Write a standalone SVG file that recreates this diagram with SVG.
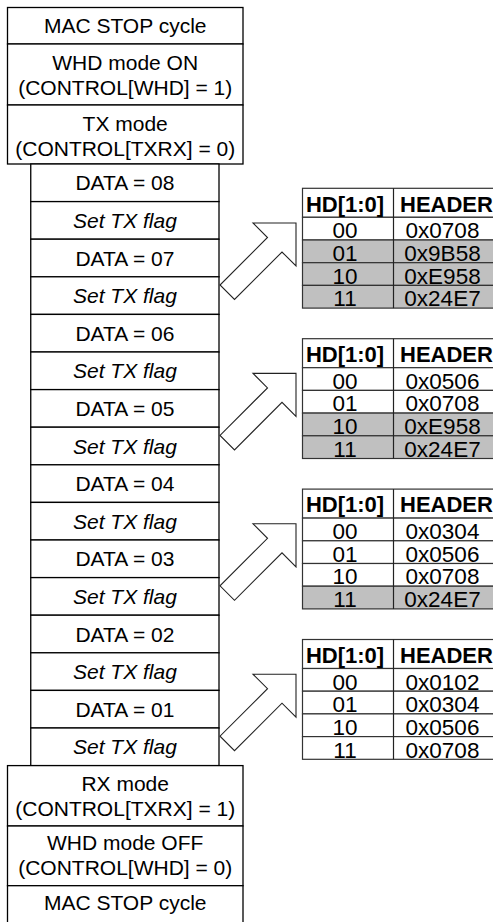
<svg xmlns="http://www.w3.org/2000/svg" width="493" height="922" viewBox="0 0 493 922">
<style>
.bx{fill:#fff;stroke:#000;stroke-width:1.3}
.t{font-family:"Liberation Sans",Arial,sans-serif;font-size:21px;fill:#000;text-anchor:middle}
.i{font-style:italic}
.tb{fill:#fff;stroke:#333;stroke-width:1.2}
.g{fill:#c0c0c0;stroke:#333;stroke-width:1.2}
.ln{stroke:#222;stroke-width:1.2}
.h{font-family:"Liberation Sans",Arial,sans-serif;font-size:22px;font-weight:bold;fill:#000}
.v{font-family:"Liberation Sans",Arial,sans-serif;font-size:22.5px;fill:#000;text-anchor:middle}
.ar{fill:#fff;stroke:#222;stroke-width:1.1;stroke-linejoin:miter}
</style>
<rect width="493" height="922" fill="#fff"/>
<g id="mac-stop-top"><rect class="bx" x="7.5" y="7.5" width="235.5" height="36.5"/><text class="t" x="125.2" y="33.3">MAC STOP cycle</text></g>
<g id="whd-on"><rect class="bx" x="7.5" y="44" width="235.5" height="61"/><text class="t" x="125.2" y="70">WHD mode ON</text><text class="t" x="125.2" y="94.5">(CONTROL[WHD] = 1)</text></g>
<g id="tx-mode"><rect class="bx" x="7.5" y="105" width="235.5" height="59"/><text class="t" x="125.2" y="131">TX mode</text><text class="t" x="125.2" y="156">(CONTROL[TXRX] = 0)</text></g>
<g id="row0"><rect class="bx" x="30.75" y="164" width="188.25" height="37.6"/><text class="t" x="124.9" y="190.3">DATA = 08</text></g>
<g id="row1"><rect class="bx" x="30.75" y="201.6" width="188.25" height="37.6"/><text class="t i" x="124.9" y="227.9">Set TX flag</text></g>
<g id="row2"><rect class="bx" x="30.75" y="239.2" width="188.25" height="37.6"/><text class="t" x="124.9" y="265.5">DATA = 07</text></g>
<g id="row3"><rect class="bx" x="30.75" y="276.8" width="188.25" height="37.6"/><text class="t i" x="124.9" y="303.1">Set TX flag</text></g>
<g id="row4"><rect class="bx" x="30.75" y="314.4" width="188.25" height="37.6"/><text class="t" x="124.9" y="340.7">DATA = 06</text></g>
<g id="row5"><rect class="bx" x="30.75" y="352" width="188.25" height="37.6"/><text class="t i" x="124.9" y="378.3">Set TX flag</text></g>
<g id="row6"><rect class="bx" x="30.75" y="389.6" width="188.25" height="37.6"/><text class="t" x="124.9" y="415.9">DATA = 05</text></g>
<g id="row7"><rect class="bx" x="30.75" y="427.2" width="188.25" height="37.6"/><text class="t i" x="124.9" y="453.5">Set TX flag</text></g>
<g id="row8"><rect class="bx" x="30.75" y="464.8" width="188.25" height="37.6"/><text class="t" x="124.9" y="491.1">DATA = 04</text></g>
<g id="row9"><rect class="bx" x="30.75" y="502.4" width="188.25" height="37.6"/><text class="t i" x="124.9" y="528.7">Set TX flag</text></g>
<g id="row10"><rect class="bx" x="30.75" y="540" width="188.25" height="37.6"/><text class="t" x="124.9" y="566.3">DATA = 03</text></g>
<g id="row11"><rect class="bx" x="30.75" y="577.6" width="188.25" height="37.6"/><text class="t i" x="124.9" y="603.9">Set TX flag</text></g>
<g id="row12"><rect class="bx" x="30.75" y="615.2" width="188.25" height="37.6"/><text class="t" x="124.9" y="641.5">DATA = 02</text></g>
<g id="row13"><rect class="bx" x="30.75" y="652.8" width="188.25" height="37.6"/><text class="t i" x="124.9" y="679.1">Set TX flag</text></g>
<g id="row14"><rect class="bx" x="30.75" y="690.4" width="188.25" height="37.6"/><text class="t" x="124.9" y="716.7">DATA = 01</text></g>
<g id="row15"><rect class="bx" x="30.75" y="728" width="188.25" height="37.6"/><text class="t i" x="124.9" y="754.3">Set TX flag</text></g>
<g id="rx-mode"><rect class="bx" x="7.5" y="765.6" width="235.5" height="60.4"/><text class="t" x="125.2" y="790.5">RX mode</text><text class="t" x="125.2" y="815.5">(CONTROL[TXRX] = 1)</text></g>
<g id="whd-off"><rect class="bx" x="7.5" y="826" width="235.5" height="59.7"/><text class="t" x="125.2" y="850">WHD mode OFF</text><text class="t" x="125.2" y="875">(CONTROL[WHD] = 0)</text></g>
<g id="mac-stop-bottom"><rect class="bx" x="7.5" y="885.7" width="235.5" height="37"/><text class="t" x="125.2" y="910">MAC STOP cycle</text></g>

<g id="table1" transform="translate(0,188.3)">
<rect class="tb" x="302.5" y="0" width="200" height="29"/>
<rect class="tb" x="302.5" y="29" width="200" height="22.7"/>
<rect class="g" x="302.5" y="51.7" width="200" height="22.7"/>
<rect class="g" x="302.5" y="74.4" width="200" height="22.7"/>
<rect class="g" x="302.5" y="97.1" width="200" height="22.7"/>
<line class="ln" x1="393.5" y1="0" x2="393.5" y2="119.8"/>
<text class="h" x="345" y="23.4" text-anchor="middle">HD[1:0]</text><text class="h" x="400" y="23.4">HEADER</text>
<text class="v" x="345" y="50">00</text><text class="v" x="442.5" y="50">0x0708</text>
<text class="v" x="345" y="72.7">01</text><text class="v" x="442.5" y="72.7">0x9B58</text>
<text class="v" x="345" y="95.4">10</text><text class="v" x="442.5" y="95.4">0xE958</text>
<text class="v" x="345" y="118.1">11</text><text class="v" x="442.5" y="118.1">0x24E7</text>
</g>
<g id="table2" transform="translate(0,338.7)">
<rect class="tb" x="302.5" y="0" width="200" height="29"/>
<rect class="tb" x="302.5" y="29" width="200" height="22.7"/>
<rect class="tb" x="302.5" y="51.7" width="200" height="22.7"/>
<rect class="g" x="302.5" y="74.4" width="200" height="22.7"/>
<rect class="g" x="302.5" y="97.1" width="200" height="22.7"/>
<line class="ln" x1="393.5" y1="0" x2="393.5" y2="119.8"/>
<text class="h" x="345" y="23.4" text-anchor="middle">HD[1:0]</text><text class="h" x="400" y="23.4">HEADER</text>
<text class="v" x="345" y="50">00</text><text class="v" x="442.5" y="50">0x0506</text>
<text class="v" x="345" y="72.7">01</text><text class="v" x="442.5" y="72.7">0x0708</text>
<text class="v" x="345" y="95.4">10</text><text class="v" x="442.5" y="95.4">0xE958</text>
<text class="v" x="345" y="118.1">11</text><text class="v" x="442.5" y="118.1">0x24E7</text>
</g>
<g id="table3" transform="translate(0,489.1)">
<rect class="tb" x="302.5" y="0" width="200" height="29"/>
<rect class="tb" x="302.5" y="29" width="200" height="22.7"/>
<rect class="tb" x="302.5" y="51.7" width="200" height="22.7"/>
<rect class="tb" x="302.5" y="74.4" width="200" height="22.7"/>
<rect class="g" x="302.5" y="97.1" width="200" height="22.7"/>
<line class="ln" x1="393.5" y1="0" x2="393.5" y2="119.8"/>
<text class="h" x="345" y="23.4" text-anchor="middle">HD[1:0]</text><text class="h" x="400" y="23.4">HEADER</text>
<text class="v" x="345" y="50">00</text><text class="v" x="442.5" y="50">0x0304</text>
<text class="v" x="345" y="72.7">01</text><text class="v" x="442.5" y="72.7">0x0506</text>
<text class="v" x="345" y="95.4">10</text><text class="v" x="442.5" y="95.4">0x0708</text>
<text class="v" x="345" y="118.1">11</text><text class="v" x="442.5" y="118.1">0x24E7</text>
</g>
<g id="table4" transform="translate(0,639.5)">
<rect class="tb" x="302.5" y="0" width="200" height="29"/>
<rect class="tb" x="302.5" y="29" width="200" height="22.7"/>
<rect class="tb" x="302.5" y="51.7" width="200" height="22.7"/>
<rect class="tb" x="302.5" y="74.4" width="200" height="22.7"/>
<rect class="tb" x="302.5" y="97.1" width="200" height="22.7"/>
<line class="ln" x1="393.5" y1="0" x2="393.5" y2="119.8"/>
<text class="h" x="345" y="23.4" text-anchor="middle">HD[1:0]</text><text class="h" x="400" y="23.4">HEADER</text>
<text class="v" x="345" y="50">00</text><text class="v" x="442.5" y="50">0x0102</text>
<text class="v" x="345" y="72.7">01</text><text class="v" x="442.5" y="72.7">0x0304</text>
<text class="v" x="345" y="95.4">10</text><text class="v" x="442.5" y="95.4">0x0506</text>
<text class="v" x="345" y="118.1">11</text><text class="v" x="442.5" y="118.1">0x0708</text>
</g>

<g id="connectors">
<defs><path id="arw" d="M253,223 L296,223 L296,266 L282,252 L234.5,299.5 L220,285 L267.5,237.5 Z"/></defs>
<use href="#arw" class="ar"/>
<use href="#arw" class="ar" transform="translate(0,150.4)"/>
<use href="#arw" class="ar" transform="translate(0,300.8)"/>
<use href="#arw" class="ar" transform="translate(0,451.2)"/>
</g>
</svg>
